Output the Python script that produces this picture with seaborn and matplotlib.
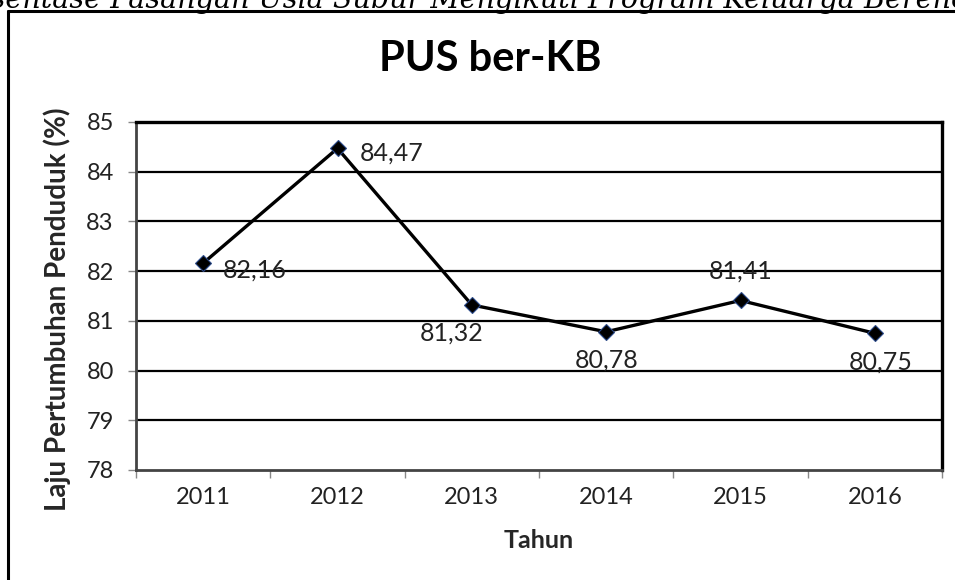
import numpy as np
import pandas as pd
import matplotlib
matplotlib.use('Agg')
import matplotlib.pyplot as plt
from matplotlib.lines import Line2D
import seaborn as sns

# data
years = ['2011', '2012', '2013', '2014', '2015', '2016']
pus_kb = [82.16, 84.47, 81.32, 80.78, 81.41, 80.75]
value_labels = ['82,16', '84,47', '81,32', '80,78', '81,41', '80,75']
# label offsets in pixels (dx, dy) relative to each point
label_offsets = [(20, -7), (22, -5), (-20, -28), (0, -28), (0, 29), (6, -29)]

df = pd.DataFrame({'pos': np.arange(len(years)), 'nilai': pus_kb})

sns.set_theme(style='white')
plt.rcParams['font.family'] = ['Lato', 'DejaVu Sans']

fig = plt.figure(figsize=(9.55, 5.8), dpi=100)
ax = fig.add_axes([136/955, 1-470/580, 806/955, 348/580])

# grid lines (Excel style, black)
for y in range(79, 85):
    ax.axhline(y, color='black', lw=1.6, zorder=1)

sns.lineplot(data=df, x='pos', y='nilai', color='black', lw=2.4,
             marker='D', markersize=8, markerfacecolor='black',
             markeredgecolor='#2b4a8a', markeredgewidth=0.8, ax=ax, zorder=3)

for i, (v, lab) in enumerate(zip(pus_kb, value_labels)):
    dx, dy = label_offsets[i]
    ha = 'left' if dx > 12 else 'center'
    ax.annotate(lab, (i, v), xytext=(dx, dy), textcoords='offset pixels',
                ha=ha, va='center', fontsize=18, color='#222222', zorder=4)

ax.set_xlim(-0.5, 5.5)
ax.set_ylim(78, 85)
ax.set_yticks(range(78, 86))
ax.set_yticklabels([str(t) for t in range(78, 86)], fontsize=17, color='#222222')
ax.set_xticks(np.arange(-0.5, 6, 1))
ax.set_xticklabels([])
ax.set_xticks(np.arange(len(years)), minor=True)
ax.set_xticklabels(years, minor=True, fontsize=17, color='#222222')
ax.tick_params(axis='x', which='major', direction='out', length=6, width=1, color='#888888', bottom=True)
ax.tick_params(axis='x', which='minor', length=0, pad=12)
ax.tick_params(axis='y', direction='out', length=6, width=1, color='#888888', left=True, pad=10)

ax.set_xlabel('Tahun', fontsize=18, fontweight='bold')
ax.xaxis.set_label_coords(0.5, -(540 - 470) / 348)
ax.xaxis.label.set_va('center')
ax.set_ylabel('Laju Pertumbuhan Penduduk (%)', fontsize=20, fontweight='bold')
ax.yaxis.set_label_coords(-(136 - 57) / 806, (470 - 309) / 348)
ax.yaxis.label.set_va('center')

for side in ['top', 'right']:
    ax.spines[side].set_color('black')
    ax.spines[side].set_linewidth(2.4)
for side in ['left', 'bottom']:
    ax.spines[side].set_color('#444444')
    ax.spines[side].set_linewidth(2.0)

# chart title
fig.text(490/955, 1-59/580, 'PUS ber-KB', ha='center', va='center',
         fontsize=30, fontweight='bold', color='black')

# outer chart frame (cut at right and bottom)
fig.add_artist(Line2D([8/955, 8/955], [1-11/580, -0.05], transform=fig.transFigure,
                      color='black', lw=2.2))
fig.add_artist(Line2D([8/955, 1.05], [1-11/580, 1-11/580], transform=fig.transFigure,
                      color='black', lw=2.2))

# caption line partly cut off at the top
fig.text(-58/955, 1-8/580,
         'Persentase Pasangan Usia Subur Mengikuti Program Keluarga Berencana',
         ha='left', va='baseline', fontsize=20.6, fontstyle='italic',
         family=['DejaVu Serif'], color='black')

fig.savefig('out.png', dpi=100)
